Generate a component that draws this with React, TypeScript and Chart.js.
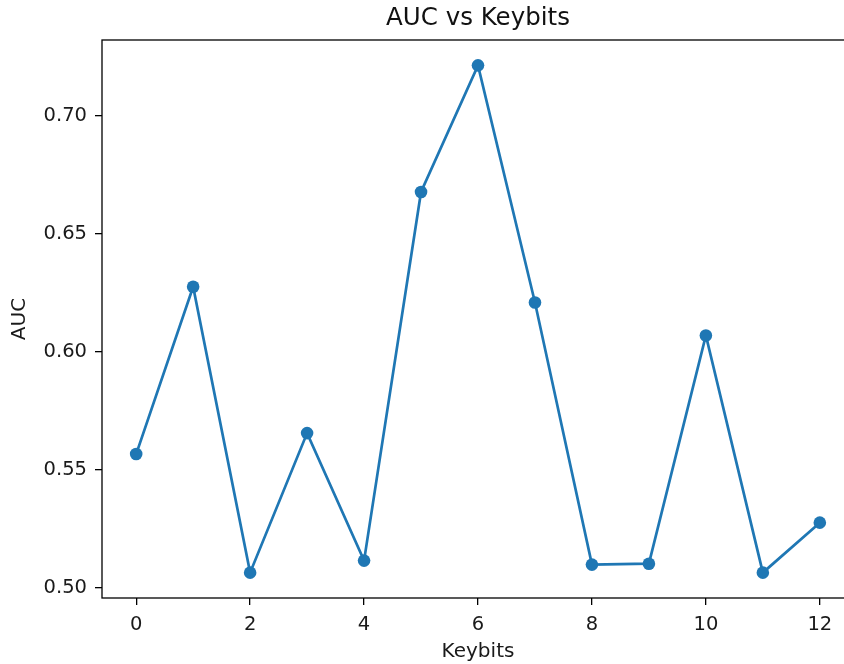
import React, { useEffect, useRef } from "react";
import { Chart, registerables } from "chart.js";

Chart.register(...registerables);

const keybits = [0, 1, 2, 3, 4, 5, 6, 7, 8, 9, 10, 11, 12];
const auc = [0.5566, 0.6276, 0.5063, 0.5655, 0.5114, 0.6678, 0.7215, 0.6209, 0.5097, 0.5101, 0.6069, 0.5063, 0.5275];
const xTicks = [0, 2, 4, 6, 8, 10, 12];
const yTicks = [0.5, 0.55, 0.6, 0.65, 0.7];
const title = "AUC vs Keybits";
const xLabel = "Keybits";
const yLabel = "AUC";

const FONT = "'DejaVu Sans', sans-serif";
const BLUE = "#1f77b4";

const W = 956;
const H = 664;

export default function App() {
  const ref = useRef<HTMLCanvasElement>(null);

  useEffect(() => {
    document.body.style.overflow = "hidden";
    const canvas = ref.current!;
    const xMin0 = Math.min(...keybits), xMax0 = Math.max(...keybits);
    const yMin0 = Math.min(...auc), yMax0 = Math.max(...auc);
    const xr = xMax0 - xMin0, yr = yMax0 - yMin0;

    const decor = {
      id: "mplDecor",
      afterDraw(chart: any) {
        const { ctx, chartArea } = chart;
        ctx.save();
        ctx.strokeStyle = "#000";
        ctx.lineWidth = 1.3;
        ctx.strokeRect(chartArea.left, chartArea.top, chartArea.right - chartArea.left, chartArea.bottom - chartArea.top);
        ctx.fillStyle = "#111";
        ctx.font = `24.5px ${FONT}`;
        ctx.textAlign = "center";
        ctx.textBaseline = "alphabetic";
        ctx.fillText(title, (chartArea.left + chartArea.right) / 2, 25);
        ctx.restore();
      },
    };

    const chart = new Chart(canvas, {
      type: "line",
      data: {
        datasets: [
          {
            data: keybits.map((k, i) => ({ x: k, y: auc[i] })),
            borderColor: BLUE,
            backgroundColor: BLUE,
            borderWidth: 2.7,
            pointRadius: 6.3,
            pointBorderWidth: 0,
            pointBackgroundColor: BLUE,
            tension: 0,
          },
        ],
      },
      options: {
        animation: false,
        responsive: false,
        devicePixelRatio: 1,
        layout: { padding: { top: 40, right: 102, left: 0, bottom: 0 } },
        plugins: { legend: { display: false }, title: { display: false }, tooltip: { enabled: false } },
        scales: {
          x: {
            type: "linear",
            min: xMin0 - 0.05 * xr,
            max: xMax0 + 0.05 * xr,
            afterBuildTicks: (s: any) => { s.ticks = xTicks.map((v) => ({ value: v })); },
            afterFit: (s: any) => { s.height = 66; },
            border: { display: false },
            grid: { display: true, drawOnChartArea: false, drawTicks: true, tickLength: 7, color: "#000", lineWidth: 1.3 },
            ticks: { color: "#1a1a1a", font: { family: FONT, size: 19.5 }, padding: 8, maxRotation: 0, autoSkip: false, callback: (v: any) => String(v) },
            title: { display: true, text: xLabel, color: "#1a1a1a", font: { family: FONT, size: 20 }, padding: { top: 0, bottom: 0 } },
          },
          y: {
            type: "linear",
            min: yMin0 - 0.05 * yr,
            max: yMax0 + 0.05 * yr,
            afterBuildTicks: (s: any) => { s.ticks = yTicks.map((v) => ({ value: v })); },
            afterFit: (s: any) => { s.width = 102; },
            border: { display: false },
            grid: { display: true, drawOnChartArea: false, drawTicks: true, tickLength: 7, color: "#000", lineWidth: 1.3 },
            ticks: { color: "#1a1a1a", font: { family: FONT, size: 19.5 }, padding: 8, autoSkip: false, callback: (v: any) => Number(v).toFixed(2) },
            title: { display: true, text: yLabel, color: "#1a1a1a", font: { family: FONT, size: 20 }, padding: { top: 8, bottom: 0 } },
          },
        },
      },
      plugins: [decor],
    });
    return () => chart.destroy();
  }, []);

  return (
    <div style={{ position: "fixed", left: 0, top: 0, width: W, height: H, background: "#fff" }}>
      <canvas ref={ref} width={W} height={H} style={{ width: W, height: H, display: "block" }} />
    </div>
  );
}
